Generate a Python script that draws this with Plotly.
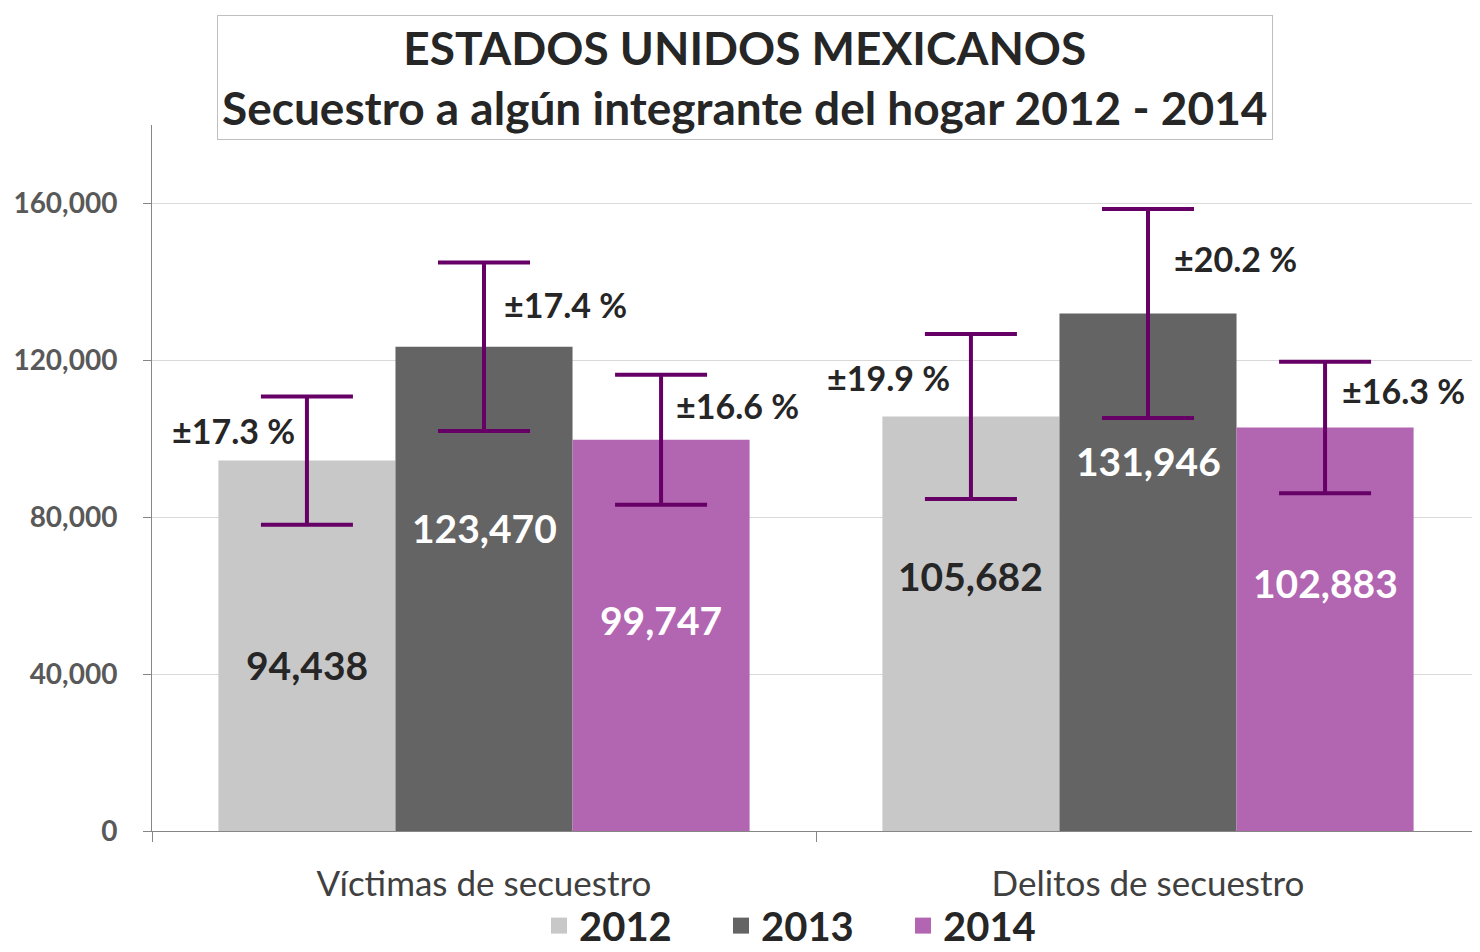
import plotly.graph_objects as go

categories = ["Víctimas de secuestro", "Delitos de secuestro"]
years = ["2012", "2013", "2014"]
values_2012 = [94438, 105682]
values_2013 = [123470, 131946]
values_2014 = [99747, 102883]
pct_2012 = [17.3, 19.9]
pct_2013 = [17.4, 20.2]
pct_2014 = [16.6, 16.3]

values = [values_2012, values_2013, values_2014]
pcts = [pct_2012, pct_2013, pct_2014]

# where the labels sit (data units), as placed in the original chart
value_label_y = [[42200, 65100], [77300, 94400], [53700, 63300]]
pct_label_y = [[102000, 115500], [134300, 146000], [108400, 112400]]
pct_label_shift = [[-73, -82], [81, 87], [76, 78]]

colors = ["#C8C8C8", "#646464", "#B266B2"]
value_font_colors = ["#262626", "white", "white"]
err_color = "#660066"
font = "Lato"
bargap = 0.2

fig = go.Figure()

for i, yr in enumerate(years):
    fig.add_trace(go.Bar(
        x=categories, y=values[i], name=yr,
        marker_color=colors[i], marker_line_width=0,
        error_y=dict(type="data", array=[v * p / 100 for v, p in zip(values[i], pcts[i])],
                     color=err_color, thickness=4, width=46),
        showlegend=False,
    ))
    # legend entry with a bigger square
    fig.add_trace(go.Scatter(
        x=[None], y=[None], mode="markers", name=yr,
        marker=dict(symbol="square", size=26, color=colors[i]),
    ))

annotations = []
bar_w = (1 - bargap) / 3
for i in range(3):
    for j in range(2):
        xpos = j + (i - 1) * bar_w
        annotations.append(dict(
            x=xpos, y=value_label_y[i][j], xref="x", yref="y",
            text=f"{values[i][j]:,}", showarrow=False,
            font=dict(family=font, size=39, color=value_font_colors[i], weight="bold"),
        ))
        annotations.append(dict(
            x=xpos, y=pct_label_y[i][j], xref="x", yref="y", xshift=pct_label_shift[i][j],
            text=f"±{pcts[i][j]} %", showarrow=False,
            font=dict(family=font, size=34, color="#262626", weight="bold"),
        ))

annotations.append(dict(
    x=0.4465, y=1.0666, xref="paper", yref="paper", showarrow=False,
    xanchor="center", yanchor="middle",
    text="ESTADOS UNIDOS MEXICANOS<br>Secuestro a algún integrante del hogar 2012 - 2014",
    font=dict(family=font, size=46, color="#262626", weight="bold"),
    bordercolor="#BFBFBF", borderwidth=1, borderpad=4, bgcolor="white",
))

# the page body adds an 8px margin, so the figure is 8px smaller than the window
fig.update_layout(
    width=1472, height=944,
    margin=dict(l=144, r=0, t=117, b=121, autoexpand=False),
    paper_bgcolor="white", plot_bgcolor="white",
    barmode="group", bargap=bargap, bargroupgap=0,
    font=dict(family=font, color="#404040"),
    annotations=annotations,
    legend=dict(
        orientation="h", x=0.497, xanchor="center", y=-0.134, yanchor="middle",
        font=dict(family=font, size=40, color="#262626", weight="bold"),
        bgcolor="rgba(0,0,0,0)",
        entrywidth=137, itemclick=False,
    ),
)

fig.update_xaxes(
    showline=True, linecolor="#868686", linewidth=1,
    ticks="outside", tickson="boundaries", ticklen=10, tickcolor="#868686",
    tickfont=dict(family=font, size=35, color="#404040"),
    ticklabelstandoff=22,
    showgrid=False,
)
fig.update_yaxes(
    range=[0, 180000], dtick=40000, tickformat=",d",
    showline=True, linecolor="#868686", linewidth=1,
    ticks="outside", ticklen=8, tickcolor="#868686",
    tickfont=dict(family=font, size=28, color="#595959", weight="bold"),
    ticklabelstandoff=20,
    showgrid=True, gridcolor="#D9D9D9", gridwidth=1, zeroline=False,
)

fig.write_html("out.html")
